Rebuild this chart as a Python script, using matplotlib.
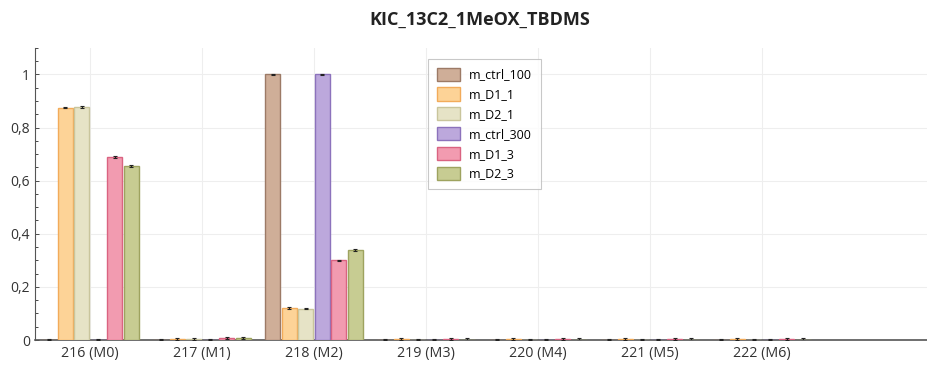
import matplotlib
matplotlib.use("Agg")
import matplotlib.pyplot as plt
import numpy as np
from matplotlib.ticker import MultipleLocator, FuncFormatter

categories = ["216 (M0)", "217 (M1)", "218 (M2)", "219 (M3)", "220 (M4)", "221 (M5)", "222 (M6)"]
series_names = ["m_ctrl_100", "m_D1_1", "m_D2_1", "m_ctrl_300", "m_D1_3", "m_D2_3"]

m_ctrl_100 = [0.002, 0.002, 1.000, 0.002, 0.002, 0.002, 0.002]
m_D1_1     = [0.875, 0.004, 0.120, 0.003, 0.003, 0.003, 0.003]
m_D2_1     = [0.877, 0.004, 0.118, 0.002, 0.002, 0.002, 0.002]
m_ctrl_300 = [0.002, 0.002, 1.000, 0.002, 0.002, 0.002, 0.002]
m_D1_3     = [0.690, 0.008, 0.300, 0.003, 0.003, 0.003, 0.003]
m_D2_3     = [0.655, 0.009, 0.338, 0.002, 0.002, 0.002, 0.002]
errors     = [0.003, 0.003, 0.003, 0.003, 0.003, 0.004]

values = [m_ctrl_100, m_D1_1, m_D2_1, m_ctrl_300, m_D1_3, m_D2_3]
faces = ["#cfae98", "#fdd397", "#e6e3c6", "#bca8dc", "#f29bb0", "#c7cc92"]
edges = ["#9c7a66", "#f2ab5a", "#c9c59c", "#8c72bc", "#da6381", "#9ea35f"]

plt.rcParams["font.family"] = ["Open Sans", "DejaVu Sans"]

fig = plt.figure(figsize=(9.28, 3.68), dpi=100)
ax = fig.add_axes([0.0377, 0.076, 0.9623, 0.794])

x = np.arange(len(categories))
step = 0.147
width = 0.135
for i, (name, vals) in enumerate(zip(series_names, values)):
    pos = x + (i - 2.5) * step
    ax.bar(pos, vals, width=width, color=faces[i], edgecolor=edges[i],
           linewidth=1.0, label=name, zorder=3)
    ax.errorbar(pos, vals, yerr=errors[i], fmt="none", ecolor="#222222",
                elinewidth=0.8, capsize=1.5, capthick=0.8, zorder=4)

ax.set_xlim(-0.49, 7.48)
ax.set_ylim(0, 1.1)
ax.set_xticks(x)
ax.set_xticklabels(categories, fontsize=10.3, color="#333333")
ax.yaxis.set_major_locator(MultipleLocator(0.2))
ax.yaxis.set_minor_locator(MultipleLocator(0.05))
ax.yaxis.set_major_formatter(FuncFormatter(
    lambda v, p: "0" if abs(v) < 1e-9 else ("1" if abs(v - 1) < 1e-9 else f"{v:.1f}".replace(".", ","))))
ax.tick_params(axis="y", labelsize=10, colors="#333333", length=3, width=0.6, direction="in")
ax.tick_params(axis="y", which="minor", length=2, width=0.5, direction="in")
ax.tick_params(axis="x", length=0, pad=4)

ax.grid(True, color="#eeeeee", linewidth=0.8, zorder=0)
for side in ["top", "right"]:
    ax.spines[side].set_visible(False)
ax.spines["left"].set_color("#555555")
ax.spines["left"].set_linewidth(0.8)
ax.spines["bottom"].set_color("#555555")
ax.spines["bottom"].set_linewidth(1.2)

leg = ax.legend(loc="upper left", bbox_to_anchor=(0.433, 0.984), fontsize=9,
                frameon=True, fancybox=False, edgecolor="#bbbbbb",
                handlelength=1.9, handleheight=1.25, labelspacing=0.48,
                handletextpad=0.7, borderpad=0.7)
leg.get_frame().set_linewidth(0.8)

fig.text(0.517, 0.945, "KIC_13C2_1MeOX_TBDMS", ha="center", va="center",
         fontsize=13, fontweight="bold", color="#222222")

fig.savefig("out.png", dpi=100)
